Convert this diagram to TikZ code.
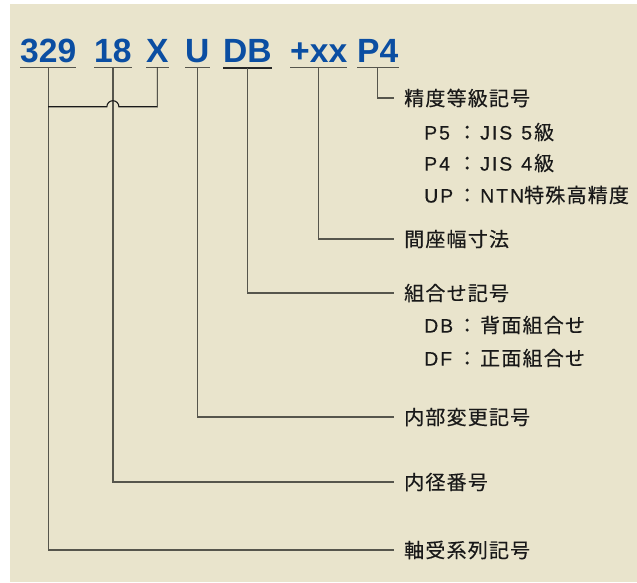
\documentclass[tikz,border=0pt]{standalone}
\usepackage{fontspec}
\setmainfont{Liberation Sans}
\newfontfamily\jp[LetterSpace=6,FakeBold=0.3]{Noto Sans CJK JP}
\newfontfamily\latsp[LetterSpace=10,FakeBold=0.3]{Liberation Sans}
\newcommand{\lat}[1]{{\latsp\fontsize{19.5}{24}\selectfont #1}}
\newcommand{\pre}[1]{\makebox[33pt][l]{\lat{#1}}\makebox[20pt][c]{：}\hspace{3pt}}
\usetikzlibrary{calc}
\definecolor{bgc}{HTML}{E9E4CC}
\definecolor{titc}{HTML}{0B4EA2}
\definecolor{linec}{HTML}{56554C}
\tikzset{
  titl/.style={anchor=base west, inner sep=0pt, text=titc, font=\fontsize{33.6}{40}\selectfont\bfseries},
  ul/.style={draw=linec, line width=1.4pt},
  ulb/.style={draw=black!85, line width=1.6pt},
  conn/.style={draw=linec, line width=1.3pt},
  hconn/.style={draw=black!90, line width=1.1pt},
  mainlab/.style={anchor=west, inner xsep=10pt, inner ysep=0pt, font=\jp\fontsize{20}{24}\selectfont, text=black!90},
  sublab/.style={anchor=west, inner sep=0pt, font=\jp\fontsize{20}{24}\selectfont, text=black!90}
}
\begin{document}
\begin{tikzpicture}[x=1pt, y=-1pt]
\useasboundingbox (0,0) rectangle (637,582);
\fill[bgc] (10,4) rectangle (637,582);
% title parts
\node[titl] (t1) at (20,62) {329};
\node[titl] (t2) at (94,62) {18};
\node[titl] (t3) at (146,62) {X};
\node[titl] (t4) at (185,62) {U};
\node[titl] (t5) at (223,62) {DB};
\node[titl] (t6) at (290,62) {+xx};
\node[titl] (t7) at (357,62) {P4};
% underlines
\foreach \t in {t1,t2,t3,t4,t6,t7}{
  \draw[ul] ([yshift=-5.7pt]\t.base west) -- ([yshift=-5.7pt]\t.base east);
}
\draw[ulb] ([yshift=-5.7pt]t5.base west) -- ([yshift=-5.7pt]t5.base east);
\foreach \i in {1,...,7}{
  \coordinate (u\i) at ([yshift=-5.7pt]t\i.base);
}
% labels
\node[mainlab] (l7) at (394,98) {精度等級記号};
\node[sublab] (s71) at (424,132) {\pre{P5}\lat{JIS}\hspace{9pt}\lat{5}\hspace{2pt}級};
\node[sublab] (s72) at (424,163) {\pre{P4}\lat{JIS}\hspace{9pt}\lat{4}\hspace{2pt}級};
\node[sublab] (s73) at (424,195) {\pre{UP}\lat{NTN}特殊高精度};
\node[mainlab] (l6) at (394,239) {間座幅寸法};
\node[mainlab] (l5) at (394,293) {組合せ記号};
\node[sublab] (s51) at (424,325) {\pre{DB}背面組合せ};
\node[sublab] (s52) at (424,358) {\pre{DF}正面組合せ};
\node[mainlab] (l4) at (394,417) {内部変更記号};
\node[mainlab] (l2) at (394,482) {内径番号};
\node[mainlab] (l1) at (394,550) {軸受系列記号};
% connectors
\draw[conn] (u7) |- (l7.west);
\draw[conn] (u6) |- (l6.west);
\draw[conn] (u5) |- (l5.west);
\draw[conn] (u4) |- (l4.west);
\draw[conn] (u2) |- (l2.west);
\draw[conn] (u1) |- (l1.west);
% joining line with hop
\coordinate (hop) at (u2 |- 0,106.7);
\draw[hconn] (u3) |- ($(hop)+(6,0)$) arc[start angle=0, end angle=180, radius=6pt] -- (u1 |- hop);
\draw[conn] (u3) -- (u3 |- hop);
\end{tikzpicture}
\end{document}
